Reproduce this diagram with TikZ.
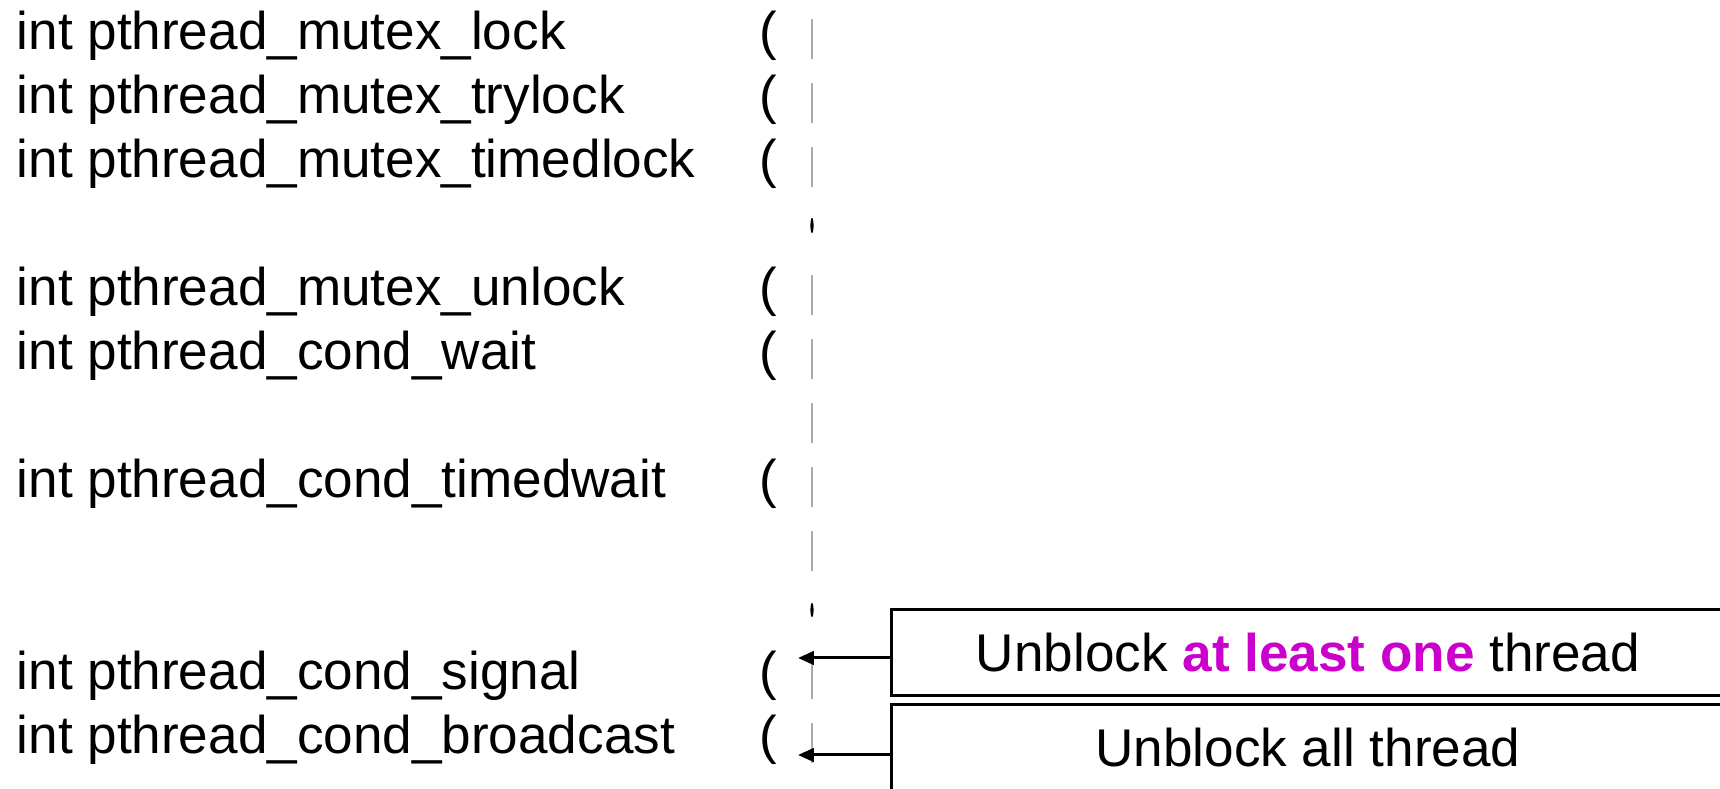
\documentclass[tikz,border=0pt]{standalone}
\usepackage{fontspec}
\setmainfont{Liberation Sans}
\usetikzlibrary{arrows.meta}
\definecolor{hilite}{RGB}{204, 0, 204}
\definecolor{guidegray}{RGB}{170, 170, 170}

\begin{document}
\begin{tikzpicture}[x=0.01cm, y=-0.01cm, >={Triangle[length=4.5pt, width=3.8pt]},
    fn/.style={anchor=base west, inner sep=0pt, font=\fontsize{15.1pt}{18pt}\selectfont},
    callout/.style={draw, line width=0.85pt, minimum width=8.32cm, minimum height=0.85cm,
      inner sep=0pt, font=\fontsize{15.1pt}{18pt}\selectfont},
    guide/.style={guidegray, line width=0.35pt}]
  \clip (0,0) rectangle (1720,789);
  % function names and opening brackets
  \foreach \name/\y/\txt in {lock/50/mutex\_lock, trylock/114/mutex\_trylock,
      timedlock/178/mutex\_timedlock, unlock/306/mutex\_unlock, wait/370/cond\_wait,
      timedwait/498/cond\_timedwait, signal/690/cond\_signal, broadcast/754/cond\_broadcast} {
    \node[fn] (\name) at (16,\y) {int pthread\_\txt};
    \node[fn] (\name-p) at (759,\y) {(};
  }
  % guide line
  \foreach \y in {19, 83, 147, 275, 339, 403, 467, 531, 659, 723} {
    \draw[guide] (812,\y) -- ++(0,40);
  }
  \fill (812,225.5) ellipse [x radius=0.45pt, y radius=2.2pt];
  \fill (812,610) ellipse [x radius=0.45pt, y radius=2pt];
  % notes
  \node[callout] (signal-box) at (1308,652.5) {Unblock \textcolor{hilite}{\bfseries at least one} thread};
  \node[callout] (broadcast-box) at (1308,747.5) {Unblock all thread};
  \coordinate (signal-tip) at (798,658);
  \coordinate (broadcast-tip) at (798,755);
  \draw[->, line width=0.85pt] (signal-box.west |- signal-tip) -- (signal-tip);
  \draw[->, line width=0.85pt] (broadcast-box.west |- broadcast-tip) -- (broadcast-tip);
\end{tikzpicture}
\end{document}
